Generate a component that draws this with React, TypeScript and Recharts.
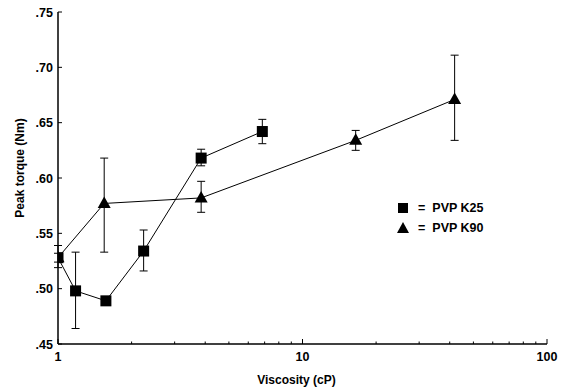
import {
  ComposedChart,
  Line,
  ErrorBar,
  XAxis,
  YAxis,
  Legend,
} from "recharts";

// PVP K25 (squares)
const k25Visc = [1.0, 1.18, 1.57, 2.24, 3.85, 6.85];
const k25Torque = [0.528, 0.498, 0.489, 0.534, 0.618, 0.642];
const k25Upper = [0.532, 0.533, 0.491, 0.553, 0.626, 0.653];
const k25Lower = [0.524, 0.464, 0.487, 0.516, 0.611, 0.631];

// PVP K90 (triangles)
const k90Visc = [1.0, 1.545, 3.85, 16.5, 41.9];
const k90Torque = [0.528, 0.577, 0.582, 0.634, 0.671];
const k90Upper = [0.539, 0.618, 0.597, 0.643, 0.711];
const k90Lower = [0.519, 0.533, 0.569, 0.625, 0.634];

const xTicks = [1, 2, 3, 4, 5, 6, 7, 8, 9, 10, 20, 30, 40, 50, 60, 70, 80, 90, 100];
const xMajor = [1, 10, 100];
const yTicks = [0.45, 0.5, 0.55, 0.6, 0.65, 0.7, 0.75];

const seriesNames = ["PVP K25", "PVP K90"];

const FONT = "'Liberation Sans', Arial, sans-serif";

type Pt = { x: number; y: number; err: [number, number] };

function buildSeries(xs: number[], ys: number[], up: number[], lo: number[]): Pt[] {
  return xs.map((x, i) => ({ x, y: ys[i], err: [ys[i] - lo[i], up[i] - ys[i]] }));
}

const k25Data = buildSeries(k25Visc, k25Torque, k25Upper, k25Lower);
const k90Data = buildSeries(k90Visc, k90Torque, k90Upper, k90Lower);

function SquareDot(props: any) {
  const { cx, cy, index } = props;
  if (cx == null || cy == null) return null;
  return <rect key={`sq-${index}`} x={cx - 5.5} y={cy - 5.5} width={11} height={11} fill="#000" />;
}

function TriangleDot(props: any) {
  const { cx, cy, index } = props;
  if (cx == null || cy == null) return null;
  return (
    <polygon
      key={`tr-${index}`}
      points={`${cx},${cy - 7} ${cx + 6.5},${cy + 4.5} ${cx - 6.5},${cy + 4.5}`}
      fill="#000"
    />
  );
}

function XTick(props: any) {
  const { x, y, payload } = props;
  const major = xMajor.includes(payload.value);
  return (
    <g>
      <line x1={x} y1={y} x2={x} y2={y - (major ? 5 : 2.5)} stroke="#000" strokeWidth={1} />
      {major && (
        <text x={x} y={y + 17} textAnchor="middle" fontSize={12.5} fontWeight="bold" fontFamily={FONT} fill="#000">
          {payload.value}
        </text>
      )}
    </g>
  );
}

function YTick(props: any) {
  const { x, y, payload } = props;
  return (
    <g>
      <line x1={x} y1={y} x2={x + 4} y2={y} stroke="#000" strokeWidth={1} />
      <text x={x - 5} y={y + 4.5} textAnchor="end" fontSize={12.5} fontWeight="bold" fontFamily={FONT} fill="#000">
        {payload.value.toFixed(2).replace(/^0/, "")}
      </text>
    </g>
  );
}

function LegendBox() {
  return (
    <div style={{ fontFamily: FONT, fontWeight: "bold", fontSize: 12.5, color: "#000" }}>
      {seriesNames.map((name, i) => (
        <div key={name} style={{ display: "flex", alignItems: "center", height: 20 }}>
          <svg width={16} height={14} style={{ marginRight: 6 }}>
            {i === 0 ? (
              <rect x={2} y={2} width={10} height={10} fill="#000" />
            ) : (
              <polygon points="7,1 13,12 1,12" fill="#000" />
            )}
          </svg>
          <span style={{ marginRight: 7 }}>=</span>
          {name}
        </div>
      ))}
    </div>
  );
}

export default function App() {
  return (
    <div style={{ position: "absolute", left: 0, top: 0, background: "#fff" }}>
      <ComposedChart width={569} height={392} margin={{ top: 12, right: 22, left: 0, bottom: 0 }}>
        <XAxis
          dataKey="x"
          type="number"
          scale="log"
          domain={[1, 100]}
          ticks={xTicks}
          interval={0}
          allowDataOverflow
          tick={<XTick />}
          tickLine={false}
          tickSize={0}
          tickMargin={0}
          axisLine={{ stroke: "#000", strokeWidth: 1.5 }}
          height={48}
          label={{
            value: "Viscosity (cP)",
            position: "insideBottom",
            offset: 8,
            dx: -6,
            style: { fontFamily: FONT, fontWeight: "bold", fontSize: 12, fill: "#000" },
          }}
        />
        <YAxis
          type="number"
          domain={[0.45, 0.75]}
          ticks={yTicks}
          interval={0}
          tick={<YTick />}
          tickLine={false}
          tickSize={0}
          tickMargin={0}
          axisLine={{ stroke: "#000", strokeWidth: 1.5 }}
          width={58}
          label={{
            value: "Peak torque (Nm)",
            angle: -90,
            position: "insideLeft",
            offset: 20,
            dy: -10,
            style: { fontFamily: FONT, fontWeight: "bold", fontSize: 12, fill: "#000", textAnchor: "middle" },
          }}
        />
        <Legend
          layout="vertical"
          align="center"
          verticalAlign="middle"
          content={<LegendBox />}
          wrapperStyle={{ left: 396, top: 198, width: "auto" }}
        />
        <Line
          data={k25Data}
          dataKey="y"
          name="PVP K25"
          stroke="#000"
          strokeWidth={1}
          dot={<SquareDot />}
          activeDot={false}
          isAnimationActive={false}
          legendType="none"
        >
          <ErrorBar dataKey="err" direction="y" width={4} stroke="#000" strokeWidth={1} />
        </Line>
        <Line
          data={k90Data}
          dataKey="y"
          name="PVP K90"
          stroke="#000"
          strokeWidth={1}
          dot={<TriangleDot />}
          activeDot={false}
          isAnimationActive={false}
          legendType="none"
        >
          <ErrorBar dataKey="err" direction="y" width={4} stroke="#000" strokeWidth={1} />
        </Line>
      </ComposedChart>
    </div>
  );
}
